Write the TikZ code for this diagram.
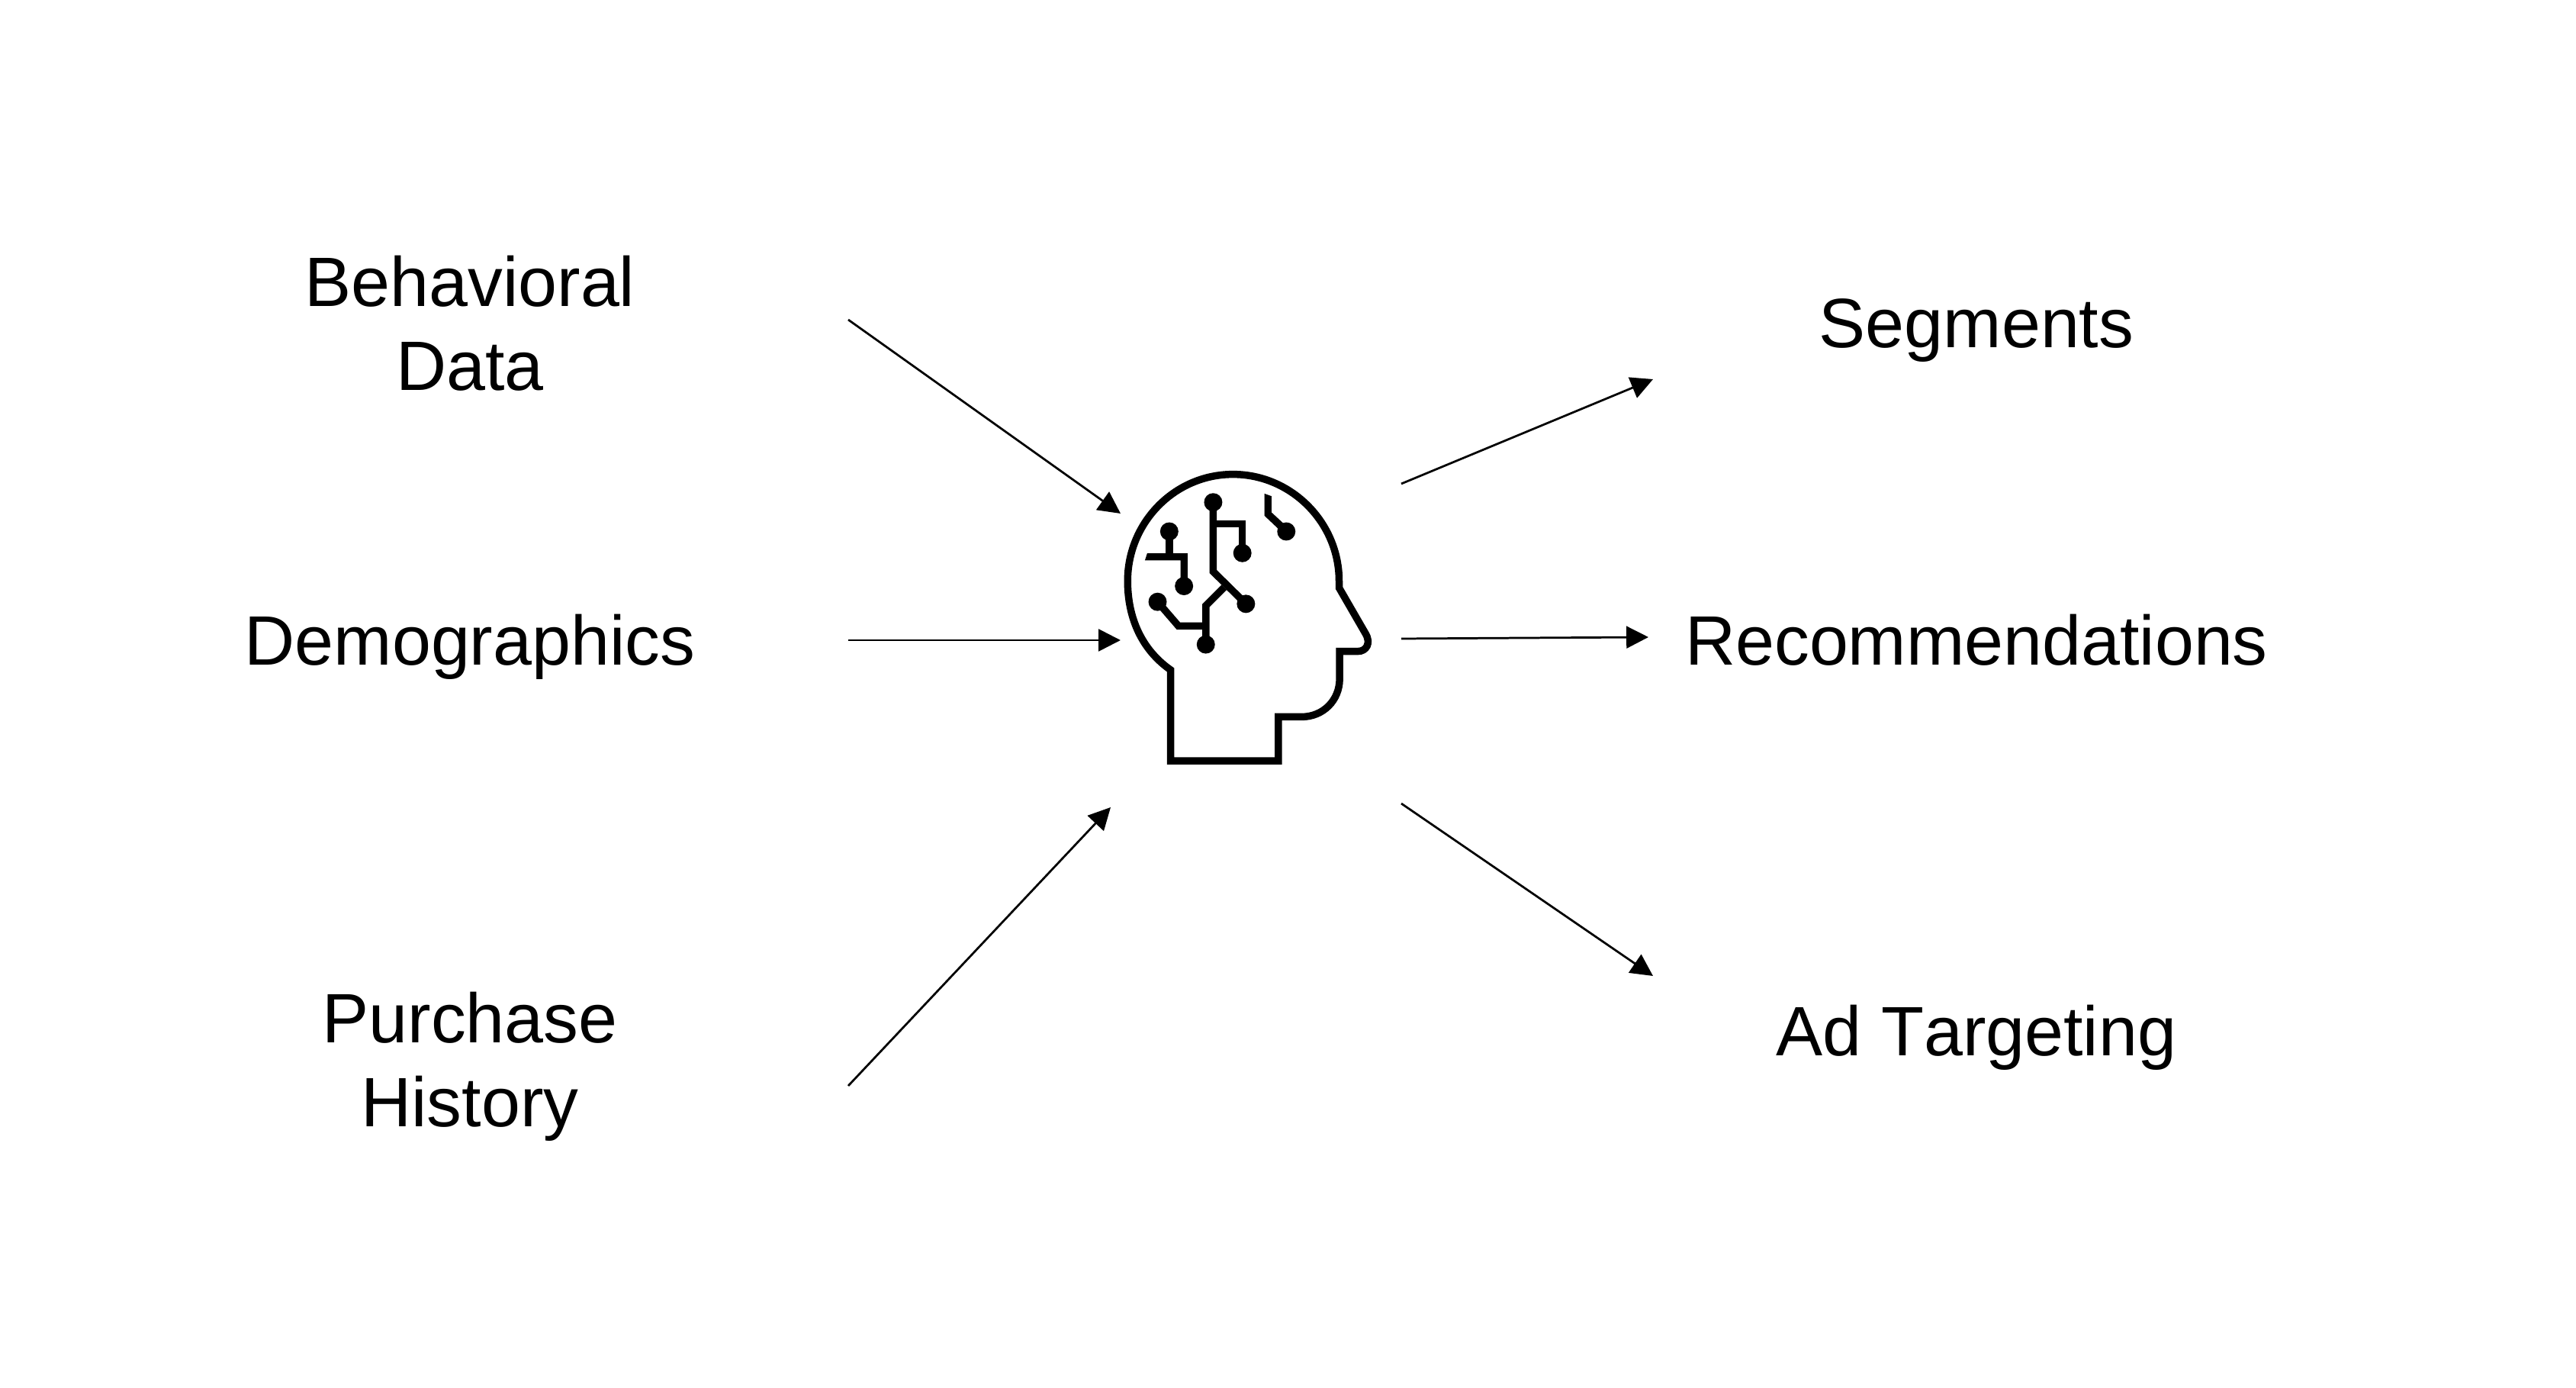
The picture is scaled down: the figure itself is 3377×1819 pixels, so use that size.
\documentclass[tikz,border=0pt]{standalone}
\usepackage{fontspec}
\setmainfont[Kerning=Off]{Liberation Sans}
\usetikzlibrary{arrows.meta}
\tikzset{
  px/.style={x=0.01cm,y=-0.01cm},
  label/.style={align=center,inner sep=0pt,font=\fontsize{26.05pt}{31.3pt}\selectfont,text=black},
  flow/.style={draw=black,line width=0.78pt,-{Triangle[length=8.2pt,width=8.2pt]},shorten >=0pt},
  headline/.style={draw=black,line width=2.7pt,miter limit=10,line join=miter},
  trace/.style={draw=black,line width=2.7pt,line join=miter},
  solder/.style={fill=black},
}
\begin{document}
\begin{tikzpicture}[px]
\useasboundingbox (0,0) rectangle (3377,1819);
\fill[white] (0,0) rectangle (3377,1819);
\node[label] (behav) at (616,424) {Behavioral\\Data};
\node[label] (demo) at (616,848) {Demographics};
\node[label] (purch) at (616,1398) {Purchase\\History};
\node[label] (seg) at (2591,433) {Segments};
\node[label] (rec) at (2591,839) {Recommendations};
\node[label] (ad) at (2591,1360) {Ad Targeting};
\coordinate (b0) at (1112,419); \coordinate (b1) at (1469,673);
\coordinate (d0) at (1112,839); \coordinate (d1) at (1469,839);
\coordinate (p0) at (1112,1423); \coordinate (p1) at (1456,1058);
\coordinate (s0) at (1837,634); \coordinate (s1) at (2167,497);
\coordinate (r0) at (1837,837); \coordinate (r1) at (2161,835);
\coordinate (a0) at (1837,1053); \coordinate (a1) at (2167,1279);
\draw[flow] (b0) -- (b1);
\draw[flow] (d0) -- (d1);
\draw[flow] (p0) -- (p1);
\draw[flow] (s0) -- (s1);
\draw[flow] (r0) -- (r1);
\draw[flow] (a0) -- (a1);
\begin{scope}[shift={(1440,600)},x=0.0033333cm,y=-0.0033333cm]
\draw[headline] (284,1193) -- (284,835)
  .. controls (170,755) and (115,630) .. (115,485)
  .. controls (115,255) and (300,65) .. (530,65)
  .. controls (760,65) and (948,255) .. (948,485)
  -- (948,512) -- (1052,692)
  .. controls (1075,730) and (1055,762) .. (1022,762)
  -- (950,762) -- (950,870)
  .. controls (950,955) and (885,1020) .. (800,1020)
  -- (709,1020) -- (709,1193) -- cycle;
\draw[trace] (452,175) -- (452,448) -- (581,575);
\draw[trace] (452,260) -- (567,260) -- (567,375);
\draw[trace] (495,510) -- (423,582) -- (423,735);
\draw[trace] (423,662) -- (315,662) -- (233,567);
\draw[trace] (279,290) -- (279,390);
\fill (192,376) -- (351,376) -- (351,505) -- (323,505) -- (323,404) -- (183,404) -- cycle;
\fill (654,141) -- (682,151) -- (682,215) -- (750,278) -- (730,300) -- (654,228) -- cycle;
\foreach \q in {(452,175),(279,290),(567,375),(740,290),(337,505),(233,567),(581,575),(423,735)}
  \fill[solder] \q circle[radius=36];
\end{scope}
\end{tikzpicture}
\end{document}
